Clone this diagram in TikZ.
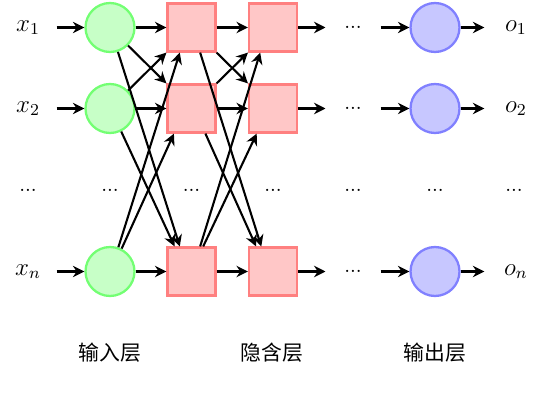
\documentclass[tikz,border=0pt]{standalone}
\usepackage{fontspec}
\newfontfamily\cjk{Noto Sans CJK SC}
\usetikzlibrary{arrows.meta}
\tikzset{
  inn/.style={circle,draw=green!55,fill=green!22,line width=1.1pt,minimum size=23.5pt,inner sep=0pt},
  hid/.style={rectangle,draw=red!50,fill=red!22,line width=1.1pt,minimum size=23pt,inner sep=0pt},
  outn/.style={circle,draw=blue!50,fill=blue!22,line width=1.1pt,minimum size=23.5pt,inner sep=0pt},
  lab/.style={minimum width=27pt,inner sep=0pt,font=\large},
  dotn/.style={minimum width=26pt,inner sep=0pt},
  layer/.style={font=\cjk,inner sep=0pt},
  conn/.style={line width=1pt,-{Stealth[length=5.5pt,width=5.5pt,inset=1.8pt]}},
}
\begin{document}
\begin{tikzpicture}[x=0.48pt,y=-0.48pt]
\useasboundingbox (0,0) rectangle (545,400);
% rows
\foreach \r/\y/\s in {1/27.5/1,2/108.5/2,n/271.5/n}{
  \node[lab] (x\r) at (28,\y) {$x_{\s}$};
  \node[inn] (i\r) at (110,\y) {};
  \node[hid] (a\r) at (191.5,\y) {};
  \node[hid] (b\r) at (273,\y) {};
  \node[dotn] (d\r) at (353,\y) {...};
  \node[outn] (o\r) at (435,\y) {};
  \node[lab,minimum width=30pt] (y\r) at (516,\y) {$o_{\s}$};
  \draw[conn] (x\r) -- (i\r);
  \draw[conn] (i\r) -- (a\r);
  \draw[conn] (a\r) -- (b\r);
  \draw[conn] (b\r) -- (d\r);
  \draw[conn] (d\r) -- (o\r);
  \draw[conn] (o\r) -- (y\r);
}
% middle dots row
\foreach \xx/\nm in {28/m1,110/m2,191.5/m3,273/m4,353/m5,435/m6,514/m7}{
  \node[inner sep=0pt] (\nm) at (\xx,190) {...};
}
% cross connections, input -> hidden 1
\draw[conn] (i1.south east) -- (a2.north west);
\draw[conn] (i2.north east) -- (a1.south west);
\draw[conn] (i1.-72) -- (an.115);
\draw[conn] (i2.-64) -- (an.124);
\draw[conn] (in.71) -- (a1.-115);
\draw[conn] (in.63) -- (a2.-125);
% hidden 1 -> hidden 2
\draw[conn] (a1.south east) -- (b2.north west);
\draw[conn] (a2.north east) -- (b1.south west);
\draw[conn] (a1.-71) -- (bn.115);
\draw[conn] (a2.-61) -- (bn.124);
\draw[conn] (an.71) -- (b1.-117);
\draw[conn] (an.65) -- (b2.-123);
% layer labels
\node[layer] (L1) at (110,353) {输入层};
\node[layer] (L2) at (272,353) {隐含层};
\node[layer] (L3) at (435,353) {输出层};
\end{tikzpicture}
\end{document}
